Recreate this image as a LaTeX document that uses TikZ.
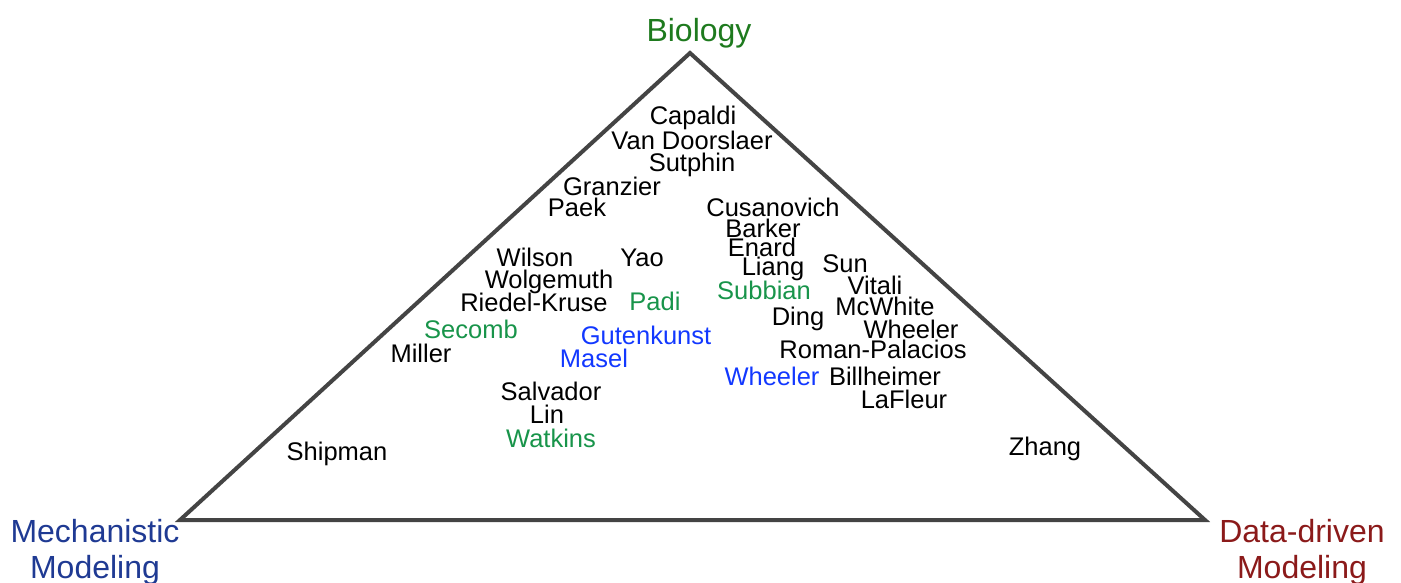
\documentclass[tikz,border=0pt]{standalone}
\usepackage{fontspec}
\setmainfont{Liberation Sans}
\definecolor{biogreen}{HTML}{1E7A1E}
\definecolor{mechblue}{HTML}{1F3A93}
\definecolor{datared}{HTML}{8B1A1A}
\definecolor{ngreen}{HTML}{18944A}
\definecolor{nblue}{HTML}{1238FF}
\definecolor{edge}{HTML}{444444}
\begin{document}
\begin{tikzpicture}[x=1pt,y=-1pt,
  nm/.style={inner sep=0pt, text height=0.72em, text depth=0pt, anchor=center, font=\fontsize{25.5}{25.5}\selectfont},
  gn/.style={nm, text=ngreen},
  bn/.style={nm, text=nblue},
  corner/.style={inner sep=0pt, align=center, font=\fontsize{32}{36}\selectfont}]
\useasboundingbox (0,0) rectangle (1401,582);
\coordinate (T) at (690,53);
\coordinate (L) at (180,520);
\coordinate (R) at (1205,520);
\draw[edge, line width=4pt, line join=miter] (T) -- (L) -- (R) -- cycle;
\node[corner, text=biogreen] (bio) at (699,33) {Biology};
\node[corner, text=mechblue] (mech) at (95,552) {Mechanistic\\Modeling};
\node[corner, text=datared] (data) at (1302,552) {Data-driven\\Modeling};
\begin{scope}[yshift=-5pt]
\node[nm] (capaldi) at (693,116) {Capaldi};
\node[nm] (vandoor) at (692,141) {Van Doorslaer};
\node[nm] (sutphin) at (692,163) {Sutphin};
\node[nm] (granzier) at (612,187) {Granzier};
\node[nm] (paek) at (577,208) {Paek};
\node[nm] (cusan) at (773,208) {Cusanovich};
\node[nm] (barker) at (763,229) {Barker};
\node[nm] (enard) at (762,248) {Enard};
\node[nm] (liang) at (773,267) {Liang};
\node[nm] (sun) at (845,264) {Sun};
\node[nm] (vitali) at (875,286) {Vitali};
\node[nm] (wilson) at (535,258) {Wilson};
\node[nm] (yao) at (642,258) {Yao};
\node[nm] (wolge) at (549,280) {Wolgemuth};
\node[nm] (riedel) at (534,303) {Riedel-Kruse};
\node[gn] (padi) at (655,302) {Padi};
\node[gn] (subbian) at (764,291) {Subbian};
\node[nm] (mcwhite) at (885,307) {McWhite};
\node[nm] (ding) at (798,317) {Ding};
\node[gn] (secomb) at (471,330) {Secomb};
\node[bn] (gutenk) at (646,336) {Gutenkunst};
\node[nm] (wheelerk) at (911,330) {Wheeler};
\node[nm] (miller) at (421,354) {Miller};
\node[bn] (masel) at (594,359) {Masel};
\node[nm] (roman) at (873,350) {Roman-Palacios};
\node[bn] (wheelerb) at (772,377) {Wheeler};
\node[nm] (billh) at (885,377) {Billheimer};
\node[nm] (lafleur) at (904,400) {LaFleur};
\node[nm] (salvador) at (551,392) {Salvador};
\node[nm] (lin) at (547,415) {Lin};
\node[gn] (watkins) at (551,439) {Watkins};
\node[nm] (shipman) at (337,452) {Shipman};
\node[nm] (zhang) at (1045,447) {Zhang};
\end{scope}
\end{tikzpicture}
\end{document}
